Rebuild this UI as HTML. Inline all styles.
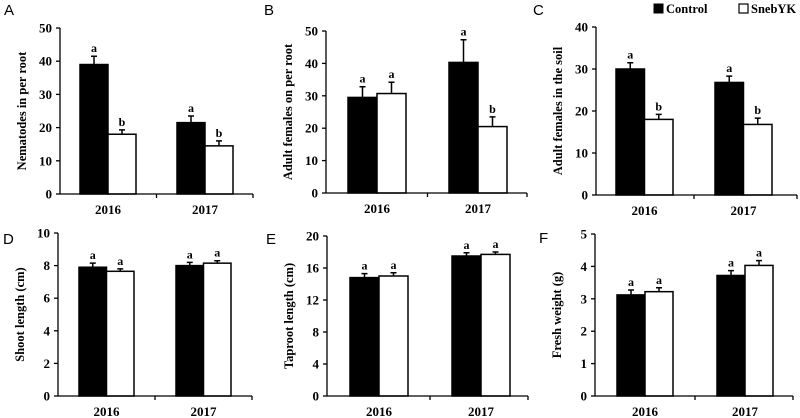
<!DOCTYPE html>
<html><head><meta charset="utf-8"><style>
body{margin:0;background:#fff;width:800px;height:418px;overflow:hidden}
svg{display:block}
text{font-family:"Liberation Serif",serif;font-weight:bold;fill:#000}
.pl{font-family:"Liberation Sans",sans-serif;font-weight:normal;font-size:15px}
</style></head><body>
<svg id="c" width="800" height="418"></svg>
<script>
const years = ["2016","2017"];
const seriesNames = ["Control","SnebYK"];
const valsA = [[39,18],[21.5,14.5]];   const errA = [[2.5,1.3],[2,1.5]];   const letA = [["a","b"],["a","b"]];
const valsB = [[29.5,30.7],[40.3,20.5]]; const errB = [[3.3,3.5],[7,3]]; const letB = [["a","a"],["a","b"]];
const valsC = [[30,18],[26.8,16.8]];   const errC = [[1.5,1.2],[1.5,1.5]]; const letC = [["a","b"],["a","b"]];
const valsD = [[7.9,7.65],[8.0,8.15]]; const errD = [[0.25,0.15],[0.2,0.15]]; const letD = [["a","a"],["a","a"]];
const valsE = [[14.8,15],[17.5,17.7]]; const errE = [[0.5,0.4],[0.4,0.3]]; const letE = [["a","a"],["a","a"]];
const valsF = [[3.12,3.22],[3.72,4.03]]; const errF = [[0.15,0.12],[0.15,0.15]]; const letF = [["a","a"],["a","a"]];
const ticksA = [0,10,20,30,40,50];
const ticksB = [0,10,20,30,40,50];
const ticksC = [0,10,20,30,40];
const ticksD = [0,2,4,6,8,10];
const ticksE = [0,4,8,12,16,20];
const ticksF = [0,1,2,3,4,5];

const NS="http://www.w3.org/2000/svg", svg=document.getElementById('c');
function mk(t,a,p){const e=document.createElementNS(NS,t);for(const k in a)e.setAttribute(k,a[k]);(p||svg).appendChild(e);return e;}

const panels=[
 {id:"a",L:"A",lx:4,ly:15,vals:valsA,err:errA,let:letA,ticks:ticksA,title:"Nematodes in per root",ax:60,top:28,zero:194,end:253,g:[80,177],w:28},
 {id:"b",L:"B",lx:264,ly:15,vals:valsB,err:errB,let:letB,ticks:ticksB,title:"Adult  females on per root",ax:326,top:31,zero:193,end:527,g:[348,449],w:29},
 {id:"c",L:"C",lx:533,ly:15,vals:valsC,err:errC,let:letC,ticks:ticksC,title:"Adult  females in the soil",ax:596,top:27,zero:195,end:797,g:[616,715],w:28.5},
 {id:"d",L:"D",lx:3,ly:244,vals:valsD,err:errD,let:letD,ticks:ticksD,title:"Shoot length (cm)",ax:58,top:233,zero:396,end:252,g:[79,176],w:27.5},
 {id:"e",L:"E",lx:266,ly:244,vals:valsE,err:errE,let:letE,ticks:ticksE,title:"Taproot length (cm)",ax:327,top:236,zero:396,end:528,g:[350,452],w:29},
 {id:"f",L:"F",lx:539,ly:243,vals:valsF,err:errF,let:letF,ticks:ticksF,title:"Fresh weight (g)",ax:595,top:234,zero:396,end:793,g:[617,717],w:28}
];
panels.forEach(p=>{
 const g=mk('g',{});
 
 
 const max=p.ticks[p.ticks.length-1];
 const y=v=>p.zero-(v/max)*(p.zero-p.top);
 const pl=mk('text',{x:p.lx,y:p.ly,class:'pl'},g);pl.textContent=p.L;
 
 
 // bars
 p.vals.forEach((pair,gi)=>{pair.forEach((v,si)=>{
  const x0=p.g[gi]+si*p.w, yv=y(v), ye=y(v+p.err[gi][si]);
  const r=mk('rect',{x:x0,y:yv,width:p.w,height:p.zero-yv,fill:si?'#fff':'#000',stroke:'#000','stroke-width':1.5},g);
  
  
  const cx=x0+p.w/2;
  const eb=mk('path',{d:`M${cx},${yv}V${ye}M${cx-3},${ye}H${cx+3}`,stroke:'#000','stroke-width':1.5,fill:'none'},g);
  
  
  const t=mk('text',{x:cx,y:ye-4,'text-anchor':'middle','font-size':12},g);t.textContent=p.let[gi][si];
  
  
 });});
 // axes
 const ya=mk('path',{d:`M${p.ax},${p.top}V${p.zero}`,stroke:'#000','stroke-width':1.3},g);
 
 
 const xa=mk('path',{d:`M${p.ax},${p.zero}H${p.end}M${(p.g[0]+p.w*2+p.g[1])/2},${p.zero}v4M${p.end},${p.zero}v4`,stroke:'#000','stroke-width':1.3},g);
 
 
 p.ticks.forEach(tv=>{
  const yy=y(tv);
  mk('path',{d:`M${p.ax-4},${yy}H${p.ax}`,stroke:'#000','stroke-width':1.3},g);
  const t=mk('text',{x:p.ax-8,y:yy+4.5,'text-anchor':'end','font-size':13},g);t.textContent=tv;
  
  
 });
 years.forEach((yr,gi)=>{
  const t=mk('text',{x:p.g[gi]+p.w,y:p.zero+20,'text-anchor':'middle','font-size':13},g);t.textContent=yr;
  
  
 });
 const tx=p.ax-34, ty=(p.top+p.zero)/2;
 const tt=mk('text',{x:tx,y:ty,'text-anchor':'middle','font-size':12.5,transform:`rotate(-90 ${tx} ${ty})`},g);tt.textContent=p.title;
 
 
});
// legend
const lg=mk('g',{});


const l1=mk('rect',{x:654,y:4,width:9,height:9,fill:'#000',stroke:'#000'},lg);


const lt1=mk('text',{x:666,y:13,'font-size':12.5},lg);lt1.textContent="Control";


const l2=mk('rect',{x:739,y:4,width:9,height:9,fill:'#fff',stroke:'#000','stroke-width':1.2},lg);


const lt2=mk('text',{x:751,y:13,'font-size':12.5},lg);lt2.textContent="SnebYK";


</script>
</body></html>
